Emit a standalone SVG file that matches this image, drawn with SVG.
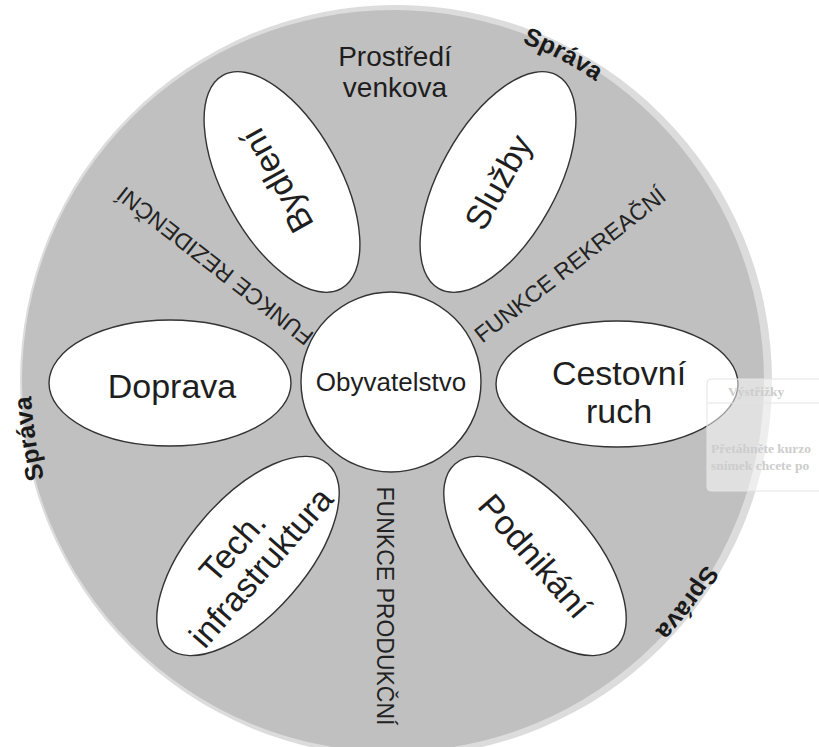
<svg xmlns="http://www.w3.org/2000/svg" width="819" height="747" viewBox="0 0 819 747">
<style>
  .petal { fill: #ffffff; stroke: #333333; stroke-width: 1.4; }
  .lbl { font-family: "Liberation Sans", Arial, sans-serif; fill: #1e1e1e; text-anchor: middle; }
  .big { font-size: 34px; }
  .func { font-family: "Liberation Sans", Arial, sans-serif; font-size: 23px; fill: #222222; text-anchor: middle; }
  .sprava { font-family: "Liberation Sans", Arial, sans-serif; font-size: 25px; font-weight: bold; fill: #1a1a1a; text-anchor: middle; }
  .pop { font-family: "Liberation Serif", serif; font-size: 13.5px; font-weight: bold; fill: #cdcdcd; }
</style>
<defs>
  <path id="arcTop" d="M377.2,19.4 A362,362 0 0 1 698.3,186.5"/>
  <path id="arcLeft" d="M111.7,608.8 A362,362 0 0 1 55.0,251.3"/>
  <path id="arcBR" d="M752.3,425.1 A362,362 0 0 1 534.4,714.2"/>
</defs>
<rect width="819" height="747" fill="#ffffff"/>
<g id="background">
  <circle cx="396" cy="381" r="376" fill="#dcdcdc"/>
  <circle cx="393" cy="381" r="371" fill="#c0c0c0"/>
</g>
<g id="prostredi">
  <text class="lbl" x="395" y="66" font-size="28" fill="#333">Prostředí</text>
  <text class="lbl" x="395" y="97" font-size="28" fill="#333">venkova</text>
</g>
<g id="sprava-labels">
  <text class="sprava"><textPath href="#arcTop" startOffset="50%">Správa</textPath></text>
  <text class="sprava"><textPath href="#arcLeft" startOffset="50%">Správa</textPath></text>
  <text class="sprava"><textPath href="#arcBR" startOffset="50%">Správa</textPath></text>
</g>
<g id="functions">
  <text class="func" transform="translate(215,266) rotate(-142)" y="8">FUNKCE REZIDENČNÍ</text>
  <text class="func" transform="translate(570,265) rotate(-38)" y="8">FUNKCE REKREAČNÍ</text>
  <text class="func" transform="translate(385,606) rotate(90)" y="8">FUNKCE PRODUKČNÍ</text>
</g>
<g id="bydleni" transform="translate(282,182) rotate(-29)">
  <ellipse class="petal" rx="58" ry="122"/>
  <text class="lbl big" transform="rotate(-90)" x="4" y="8">Bydlení</text>
</g>
<g id="sluzby" transform="translate(498,182) rotate(29)">
  <ellipse class="petal" rx="58" ry="122"/>
  <text class="lbl big" transform="rotate(-90)" y="12">Služby</text>
</g>
<g id="doprava">
  <ellipse class="petal" cx="170" cy="383" rx="121" ry="63"/>
  <text class="lbl big" x="172" y="398">Doprava</text>
</g>
<g id="cestovni-ruch">
  <ellipse class="petal" cx="617" cy="384" rx="121" ry="63"/>
  <text class="lbl big" x="619" y="385">Cestovní</text>
  <text class="lbl big" x="619" y="423">ruch</text>
</g>
<g id="tech-infrastruktura" transform="translate(248,556) rotate(41)">
  <ellipse class="petal" rx="58" ry="122"/>
  <g transform="rotate(-90)">
    <text class="lbl big" x="-3" y="-6">Tech.</text>
    <text class="lbl big" x="0" y="29">infrastruktura</text>
  </g>
</g>
<g id="podnikani" transform="translate(535,556) rotate(-41)">
  <ellipse class="petal" rx="58" ry="122"/>
  <text class="lbl big" transform="rotate(90)" y="12">Podnikání</text>
</g>
<g id="obyvatelstvo">
  <circle class="petal" cx="391" cy="382" r="90"/>
  <text class="lbl" x="391" y="391" font-size="26">Obyvatelstvo</text>
</g>
<g id="popup">
  <rect x="707" y="379" width="130" height="112" rx="4" fill="#ffffff" fill-opacity="0.5" stroke="#e4e4e4"/>
  <line x1="707" y1="403" x2="819" y2="403" stroke="#e4e4e4"/>
  <text class="pop" x="728" y="396" font-size="11" font-weight="normal">Výstřižky</text>
  <text class="pop" x="711" y="453">Přetáhněte kurzo</text>
  <text class="pop" x="711" y="470">snímek chcete po</text>
</g>
</svg>
